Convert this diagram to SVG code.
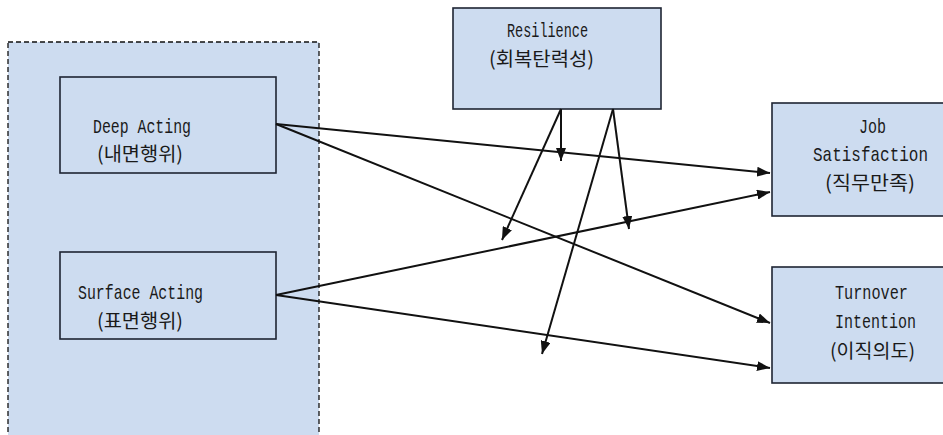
<svg xmlns="http://www.w3.org/2000/svg" width="943" height="435" viewBox="0 0 943 435">
  <style>
    .box { fill: #cddcf0; stroke: #1f2533; stroke-width: 1.6; }
    .group { fill: #cddcf0; stroke: #111; stroke-width: 1.3; stroke-dasharray: 5 3; }
    .lbl { font-family: "Liberation Mono", "Noto Sans CJK KR", monospace; font-size: 15px; fill: #1a1a1a; }
    .ko { font-family: "Noto Sans CJK KR", "Liberation Mono", sans-serif; font-size: 17px; fill: #1a1a1a; }
    .conn line { stroke: #111; stroke-width: 2; marker-end: url(#head); }
  </style>
  <defs>
    <marker id="head" markerUnits="userSpaceOnUse" markerWidth="14" markerHeight="10" refX="13" refY="5" orient="auto">
      <path d="M0,0 L13,5 L0,10 z" fill="#111"/>
    </marker>
  </defs>

  <rect width="943" height="435" fill="#ffffff"/>

  <!-- emotional labour group -->
  <rect id="labour-group" class="group" x="8" y="42" width="311" height="400"/>

  <!-- labels are stretched vertically for the tall, narrow lettering -->
  <g id="deep-acting">
    <rect class="box" x="60" y="77" width="216" height="96"/>
    <text class="lbl" transform="translate(93 133) scale(1 1.4)" textLength="98" lengthAdjust="spacingAndGlyphs">Deep Acting</text>
    <text class="ko" transform="translate(97 161) scale(1 1.15)" textLength="86" lengthAdjust="spacingAndGlyphs">(내면행위)</text>
  </g>

  <g id="surface-acting">
    <rect class="box" x="60" y="252" width="216" height="87"/>
    <text class="lbl" transform="translate(78 299) scale(1 1.4)" textLength="125" lengthAdjust="spacingAndGlyphs">Surface Acting</text>
    <text class="ko" transform="translate(97 328) scale(1 1.15)" textLength="86" lengthAdjust="spacingAndGlyphs">(표면행위)</text>
  </g>

  <g id="resilience">
    <rect class="box" x="453" y="8" width="208" height="101"/>
    <text class="lbl" transform="translate(507 37) scale(1 1.4)" textLength="81" lengthAdjust="spacingAndGlyphs">Resilience</text>
    <text class="ko" transform="translate(489 66) scale(1 1.15)" textLength="105" lengthAdjust="spacingAndGlyphs">(회복탄력성)</text>
  </g>

  <g id="job-satisfaction">
    <rect class="box" x="772" y="103" width="190" height="113"/>
    <text class="lbl" transform="translate(859 133) scale(1 1.4)" textLength="27" lengthAdjust="spacingAndGlyphs">Job</text>
    <text class="lbl" transform="translate(813 161) scale(1 1.4)" textLength="115" lengthAdjust="spacingAndGlyphs">Satisfaction</text>
    <text class="ko" transform="translate(825 190) scale(1 1.15)" textLength="90" lengthAdjust="spacingAndGlyphs">(직무만족)</text>
  </g>

  <g id="turnover-intention">
    <rect class="box" x="772" y="267" width="190" height="116"/>
    <text class="lbl" transform="translate(835 299) scale(1 1.4)" textLength="73" lengthAdjust="spacingAndGlyphs">Turnover</text>
    <text class="lbl" transform="translate(835 328) scale(1 1.4)" textLength="81" lengthAdjust="spacingAndGlyphs">Intention</text>
    <text class="ko" transform="translate(830 358) scale(1 1.15)" textLength="85" lengthAdjust="spacingAndGlyphs">(이직의도)</text>
  </g>

  <g id="connectors" class="conn">
    <line x1="276" y1="124" x2="770" y2="173"/>
    <line x1="276" y1="124" x2="770" y2="323"/>
    <line x1="276" y1="295" x2="770" y2="192"/>
    <line x1="276" y1="295" x2="770" y2="368"/>
    <line x1="561" y1="109" x2="561" y2="161"/>
    <line x1="561" y1="109" x2="502" y2="240"/>
    <line x1="613" y1="109" x2="629" y2="229"/>
    <line x1="613" y1="109" x2="542" y2="354"/>
  </g>
</svg>
